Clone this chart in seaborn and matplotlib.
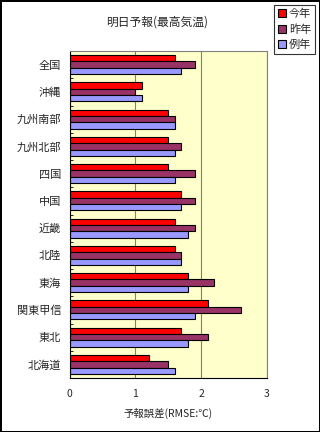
import pandas as pd
import seaborn as sns
import matplotlib.pyplot as plt
from matplotlib.ticker import MultipleLocator, FixedLocator

# 地域と予報誤差 (RMSE, ℃)
regions = ['全国', '沖縄', '九州南部', '九州北部', '四国', '中国',
           '近畿', '北陸', '東海', '関東甲信', '東北', '北海道']
this_year = [1.6, 1.1, 1.5, 1.5, 1.5, 1.7, 1.6, 1.6, 1.8, 2.1, 1.7, 1.2]
last_year = [1.9, 1.0, 1.6, 1.7, 1.9, 1.9, 1.9, 1.7, 2.2, 2.6, 2.1, 1.5]
normal_year = [1.7, 1.1, 1.6, 1.6, 1.6, 1.7, 1.8, 1.7, 1.8, 1.9, 1.8, 1.6]
series_names = ['今年', '昨年', '例年']
colors = ['#FF0000', '#993366', '#9999FF']

df = pd.DataFrame({'地域': regions, '今年': this_year,
                   '昨年': last_year, '例年': normal_year})
long_df = df.melt(id_vars='地域', var_name='系列', value_name='RMSE')

sns.set_style('white')
plt.rcParams['font.family'] = ['Noto Sans CJK JP', 'DejaVu Sans']

fig = plt.figure(figsize=(3.2, 4.32), dpi=100)
fig.patch.set_edgecolor('black')
fig.patch.set_linewidth(2)
ax = fig.add_axes([69.5 / 320, 1 - 378 / 432, (267 - 69.5) / 320, (378 - 51) / 432])

sns.barplot(data=long_df, y='地域', x='RMSE', hue='系列', hue_order=series_names,
            order=regions, palette=colors, saturation=1, orient='h', width=0.7,
            edgecolor='black', linewidth=0.8, ax=ax, legend=False)

ax.set_facecolor('#FFFFCC')
ax.set_xlim(0, 3)
ax.set_ylim(len(regions) - 0.5, -0.5)
ax.xaxis.set_major_locator(MultipleLocator(1))
ax.grid(axis='x', color='#808080', linewidth=0.8)
ax.set_axisbelow(True)
for s in ax.spines.values():
    s.set_color('#808080')
    s.set_linewidth(0.8)
ax.spines['left'].set_color('black')
ax.spines['bottom'].set_color('black')

ax.tick_params(axis='y', which='major', length=0, labelsize=8, pad=6)
ax.yaxis.set_minor_locator(FixedLocator([i + 0.5 for i in range(len(regions) - 1)]))
ax.tick_params(axis='y', which='minor', length=2, direction='in', color='black', left=True)
ax.tick_params(axis='x', which='major', length=0, labelsize=7.5, pad=8)
ax.set_ylabel('')
ax.set_xlabel('予報誤差(RMSE:℃)', fontsize=7.5, labelpad=6)

fig.text(157 / 320, 1 - 22 / 432, '明日予報(最高気温)', ha='center', va='center', fontsize=8.5)

handles = [plt.Rectangle((0, 0), 1, 1, facecolor=c, edgecolor='black', linewidth=0.8)
           for c in colors]
leg = fig.legend(handles, series_names, loc='upper right',
                 bbox_to_anchor=(315 / 320, 1 - 5 / 432), fontsize=8,
                 frameon=True, fancybox=False, handlelength=0.7, handleheight=0.7,
                 handletextpad=0.3, borderpad=0.35, labelspacing=0.45, borderaxespad=0)
leg.get_frame().set_edgecolor('black')
leg.get_frame().set_linewidth(0.8)

fig.savefig('out.png', dpi=100, edgecolor=fig.get_edgecolor())
